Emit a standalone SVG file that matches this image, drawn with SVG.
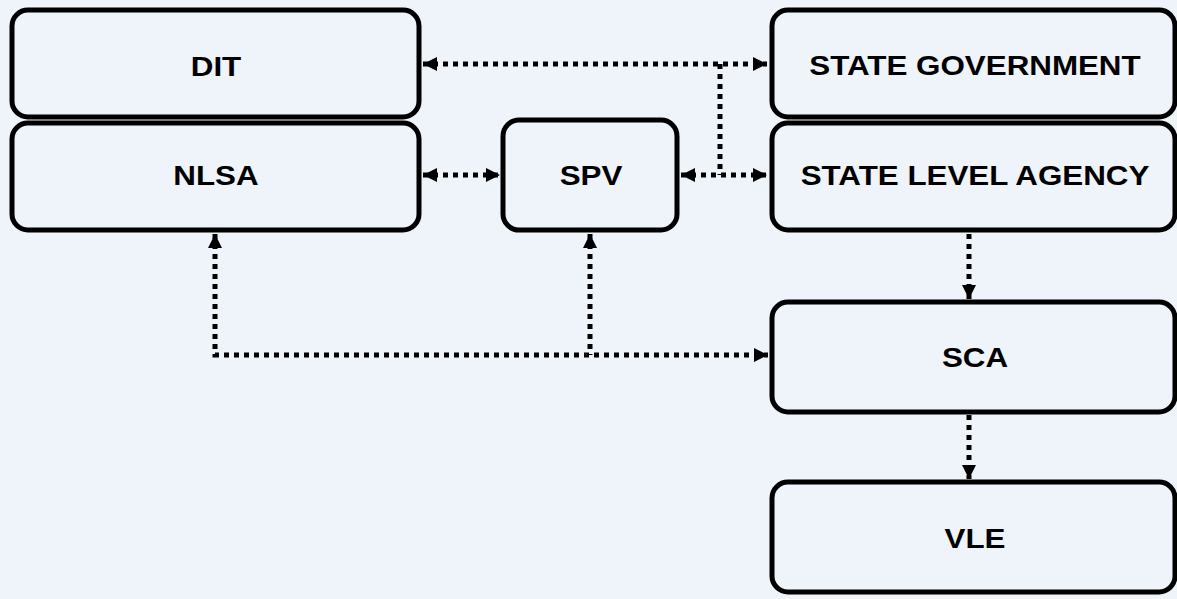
<svg xmlns="http://www.w3.org/2000/svg" width="1177" height="599" viewBox="0 0 1177 599">
<style>
.box{fill:#EFF3FA;stroke:#000;stroke-width:5}
.lbl{font-family:"Liberation Sans",Arial,sans-serif;font-weight:bold;font-size:28.5px;fill:#000;text-anchor:middle}
.con{fill:none;stroke:#000;stroke-width:5;stroke-dasharray:5 5}
</style>
<defs>
<marker id="ah" viewBox="0 0 14 14" refX="14" refY="7" markerWidth="14" markerHeight="14" markerUnits="userSpaceOnUse" orient="auto-start-reverse">
<path d="M0,0 L14,7 L0,14 Z" fill="#000"/>
</marker>
</defs>
<rect width="1177" height="599" fill="#EFF3FA"/>
<g id="connectors">
<path class="con" d="M423,64 H767" marker-start="url(#ah)" marker-end="url(#ah)"/>
<path class="con" d="M720,64 V175"/>
<path class="con" d="M423,175 H500" marker-start="url(#ah)" marker-end="url(#ah)"/>
<path class="con" d="M681,175 H767" marker-start="url(#ah)" marker-end="url(#ah)"/>
<path class="con" d="M969,234 V299" marker-end="url(#ah)"/>
<path class="con" d="M969,415 V479" marker-end="url(#ah)"/>
<path class="con" d="M215,234 V355 H768" marker-start="url(#ah)" marker-end="url(#ah)"/>
<path class="con" d="M590,234 V355" marker-start="url(#ah)"/>
</g>
<g id="dit"><rect class="box" x="12" y="10" width="407" height="107" rx="16"/><text class="lbl" transform="translate(216,76) scale(1.1,1)">DIT</text></g>
<g id="nlsa"><rect class="box" x="12" y="123" width="407" height="107" rx="16"/><text class="lbl" transform="translate(216,185) scale(1.1,1)">NLSA</text></g>
<g id="spv"><rect class="box" x="503" y="120" width="174" height="110" rx="16"/><text class="lbl" transform="translate(591,185) scale(1.1,1)">SPV</text></g>
<g id="state-government"><rect class="box" x="772" y="10" width="403" height="107" rx="16"/><text class="lbl" transform="translate(975,75) scale(1.1,1)">STATE GOVERNMENT</text></g>
<g id="state-level-agency"><rect class="box" x="772" y="123" width="403" height="107" rx="16"/><text class="lbl" transform="translate(975,185) scale(1.1,1)">STATE LEVEL AGENCY</text></g>
<g id="sca"><rect class="box" x="772" y="302" width="403" height="110" rx="16"/><text class="lbl" transform="translate(975,367) scale(1.1,1)">SCA</text></g>
<g id="vle"><rect class="box" x="772" y="482" width="403" height="110" rx="16"/><text class="lbl" transform="translate(975,548) scale(1.1,1)">VLE</text></g>
</svg>
